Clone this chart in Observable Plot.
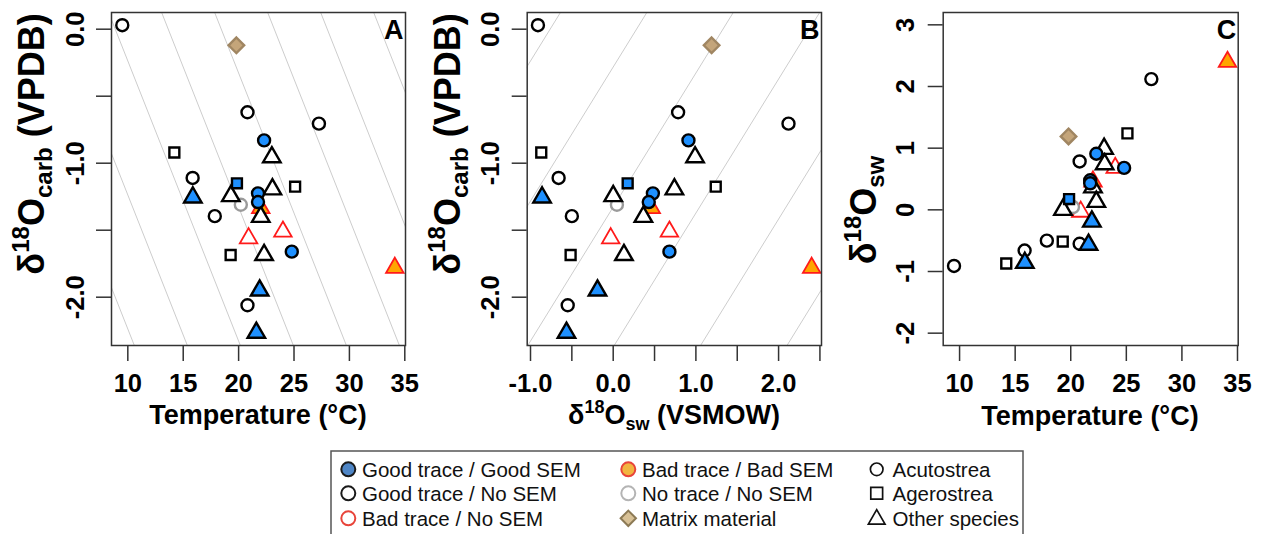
<!DOCTYPE html>
<html>
<head>
<meta charset="utf-8">
<script src="https://cdn.jsdelivr.net/npm/d3@7"></script>
<script src="https://cdn.jsdelivr.net/npm/@observablehq/plot@0.6"></script>
<style>
  body { margin: 0; background: #fff; }
  #wrap { position: relative; width: 1262px; height: 534px; overflow: hidden; background: #fff;
          font-family: "Liberation Sans", Arial, Helvetica, sans-serif; }
  #wrap svg { position: absolute; top: 0; overflow: visible; }
</style>
</head>
<body>
<div id="wrap"></div>
<script>
// ---------------- DATA ----------------
const temperature = [9.5, 19.8, 20.8, 27.25, 22.3, 23.0, 14.2, 15.85, 19.85, 23.05, 25.1, 15.87, 19.3, 21.75,
                     21.75, 20.2, 22.0, 22.0, 17.85, 20.9, 24.0, 19.28, 22.3, 24.8, 34.1, 21.9, 20.8, 21.6];
const d18Ocarb = [0.03, -0.12, -0.62, -0.705, -0.83, -0.955, -0.92, -1.11, -1.15, -1.195, -1.175, -1.255, -1.245, -1.225,
                  -1.29, -1.31, -1.335, -1.40, -1.395, -1.56, -1.51, -1.685, -1.685, -1.66, -1.78, -1.95, -2.06, -2.265];
const d18Osw = [-0.91, 1.19, 0.785, 2.12, 0.91, 0.99, -0.87, -0.66, 0.175, 0.74, 1.24, -0.86, 0.0, 0.48,
                0.43, 0.045, 0.46, 0.365, -0.50, -0.03, 0.68, -0.515, 0.13, 0.68, 2.40, -0.19, -0.55, -0.565];
const species = ["Acutostrea","Matrix","Acutostrea","Acutostrea","Acutostrea","Other species","Agerostrea",
                 "Acutostrea","Agerostrea","Other species","Agerostrea","Other species","Other species","Acutostrea",
                 "Acutostrea","Acutostrea","Other species","Other species","Acutostrea","Other species","Other species",
                 "Agerostrea","Other species","Acutostrea","Other species","Other species","Acutostrea","Other species"];
const GG = "Good trace / Good SEM", GN = "Good trace / No SEM", BN = "Bad trace / No SEM",
      BB = "Bad trace / Bad SEM", NN = "No trace / No SEM", MM = "Matrix material";
const status = [GN, MM, GN, GN, GG, GN, GN, GN, GG, GN, GN, GG, GN, GG,
                GG, NN, BB, GN, GN, BN, BN, GN, GN, GG, BB, GG, GN, GG];

// tick values and labels
const tempTicks = [10, 15, 20, 25, 30, 35];
const carbTicks = [0, -0.5, -1, -1.5, -2];
const carbLabeled = [0, -1, -2];
const swTicksB = [-1, -0.5, 0, 0.5, 1, 1.5, 2, 2.5];
const swLabeledB = [-1, 0, 1, 2];
const swTicksC = [3, 2, 1, 0, -1, -2];

// reference-line family (paleotemperature relation)
const isoSlope = 0.209, isoT0 = 13.65;
const swLevels = [-4, -3, -2, -1, 0, 1, 2, 3, 4, 5];       // panel A lines (constant δ18Osw)
const tLevels = [0, 5, 10, 15, 20, 25, 30, 35, 40, 45];     // panel B lines (constant T)

// legend
const legendCol1 = [GG, GN, BN];
const legendCol2 = [BB, NN, MM];
const legendCol3 = ["Acutostrea", "Agerostrea", "Other species"];

// ---------------- STYLES ----------------
const FONT = '"Liberation Sans", Arial, Helvetica, sans-serif';
const statusStyle = {
  [GG]: {fill: "#1E90FF", stroke: "#000000", sw: 2.4},
  [GN]: {fill: "#ffffff", stroke: "#000000", sw: 2.4},
  [BN]: {fill: "#ffffff", stroke: "#FF1A1A", sw: 1.8},
  [BB]: {fill: "#FFA500", stroke: "#FF1A1A", sw: 1.8},
  [NN]: {fill: "#ffffff", stroke: "#9a9a9a", sw: 2.4},
  [MM]: {fill: "#C4A57A", stroke: "#A08662", sw: 2.4}
};
const legendStyle = {
  [GG]: {fill: "#4F86C6", stroke: "#1a1a1a"},
  [GN]: {fill: "#ffffff", stroke: "#1a1a1a"},
  [BN]: {fill: "#ffffff", stroke: "#E8443A"},
  [BB]: {fill: "#F2B440", stroke: "#E8443A"},
  [NN]: {fill: "#ffffff", stroke: "#B4B4B4"},
  [MM]: {fill: "#D8C196", stroke: "#8C7A55"}
};
const shapeOf = {"Acutostrea": "circle", "Agerostrea": "square", "Other species": "triangle", "Matrix": "diamond2"};
const sizeOf = {"Acutostrea": 6, "Agerostrea": 5.6, "Other species": 6.5, "Matrix": 7};
const drawOrder = [BB, BN, NN, MM, GN, GG];
const speciesList = ["Acutostrea", "Agerostrea", "Other species", "Matrix"];

const samples = temperature.map((t, i) => ({T: t, carb: d18Ocarb[i], sw: d18Osw[i], species: species[i], status: status[i]}));

const wrap = document.getElementById("wrap");

function panel(o) {
  const marks = [];
  if (o.grid) marks.push(o.grid);
  for (const st of drawOrder) for (const sp of speciesList) {
    const sub = samples.filter(r => r.status === st && r.species === sp);
    if (!sub.length) continue;
    const s = statusStyle[st];
    marks.push(Plot.dot(sub, {x: o.xKey, y: o.yKey, symbol: shapeOf[sp], r: sizeOf[sp],
      fill: s.fill, stroke: s.stroke, strokeWidth: s.sw}));
  }
  marks.push(Plot.frame({stroke: "#333", strokeWidth: 1.5}));
  marks.push(Plot.axisX({ticks: o.xTicks, tickSize: 16, tickPadding: 12, label: null,
    tickFormat: d => o.xLabeled.includes(d) ? o.xFmt(d) : "", stroke: "#333", strokeWidth: 1.5}));
  marks.push(Plot.axisY({ticks: o.yTicks, tickSize: 15, label: null, tickFormat: () => "",
    stroke: "#333", strokeWidth: 1.5}));
  marks.push(Plot.text(o.yLabeled, {y: d => d, text: d => o.yFmt(d), frameAnchor: "left", dx: o.yTickDx,
    rotate: -90, textAnchor: "middle", lineAnchor: "middle", fontSize: 25.5, fontWeight: "bold", fill: "#000"}));
  marks.push(Plot.text([o.letter], {text: d => d, frameAnchor: "top-right", textAnchor: "end", lineAnchor: "top",
    dx: -2, dy: 7, fontSize: 27, fontWeight: "bold", fill: "#000"}));
  const svg = Plot.plot({
    width: o.width, height: 400,
    marginLeft: o.mLeft, marginRight: o.mRight, marginTop: 12, marginBottom: 55,
    x: {domain: o.xDomain, axis: null},
    y: {domain: o.yDomain, axis: null},
    style: {fontFamily: FONT, fontSize: "25.5px", fontWeight: "bold", color: "#000", background: "transparent"},
    marks
  });
  svg.style.left = o.left + "px";
  wrap.appendChild(svg);
}

const f1 = d => d.toFixed(1);
const f0 = d => String(d);

// Panel A: δ18Ocarb vs temperature, lines of constant δ18Osw
panel({
  left: 0, width: 430, mLeft: 111, mRight: 25,
  xDomain: [8.527, 35.063], yDomain: [-2.3604, 0.1246],
  xKey: "T", yKey: "carb",
  xTicks: tempTicks, xLabeled: tempTicks, xFmt: f0,
  yTicks: carbTicks, yLabeled: carbLabeled, yFmt: f1, yTickDx: -36, letter: "A",
  grid: Plot.link(swLevels, {x1: () => 0, x2: () => 40,
    y1: L => L - isoSlope * (0 - isoT0), y2: L => L - isoSlope * (40 - isoT0),
    stroke: "#cdcdcd", strokeWidth: 1, clip: true})
});

// Panel B: δ18Ocarb vs δ18Osw, lines of constant temperature
panel({
  left: 430, width: 410, mLeft: 96.7, mRight: 19,
  xDomain: [-1.04, 2.519], yDomain: [-2.3604, 0.1246],
  xKey: "sw", yKey: "carb",
  xTicks: swTicksB, xLabeled: swLabeledB, xFmt: f1,
  yTicks: carbTicks, yLabeled: carbLabeled, yFmt: f1, yTickDx: -36, letter: "B",
  grid: Plot.link(tLevels, {x1: () => -4, x2: () => 5,
    y1: T => -4 - isoSlope * (T - isoT0), y2: T => 5 - isoSlope * (T - isoT0),
    stroke: "#cdcdcd", strokeWidth: 1, clip: true})
});

// Panel C: δ18Osw vs temperature
panel({
  left: 840, width: 422, mLeft: 102.7, mRight: 24.3,
  xDomain: [8.527, 35.063], yDomain: [-2.2, 3.2],
  xKey: "T", yKey: "sw",
  xTicks: tempTicks, xLabeled: tempTicks, xFmt: f0,
  yTicks: swTicksC, yLabeled: swTicksC, yFmt: f0, yTickDx: -37.7, letter: "C",
  grid: null
});

// ---------------- AXIS TITLES ----------------
const ns = "http://www.w3.org/2000/svg";
const over = document.createElementNS(ns, "svg");
over.setAttribute("width", 1262); over.setAttribute("height", 534);
over.style.left = "0px"; over.style.pointerEvents = "none";
over.setAttribute("font-family", FONT);
const tempTitle = "Temperature (°C)";
over.innerHTML = `
  <text x="258" y="424" text-anchor="middle" font-size="27" font-weight="bold">${tempTitle}</text>
  <text x="1090" y="425" text-anchor="middle" font-size="27" font-weight="bold">${tempTitle}</text>
  <text x="674" y="424" text-anchor="middle" font-size="27" font-weight="bold">δ<tspan font-size="18" dy="-11">18</tspan><tspan dy="11">O</tspan><tspan font-size="18" dy="6">sw</tspan><tspan dy="-6"> (VSMOW)</tspan></text>
  <text transform="translate(44,144) rotate(-90)" text-anchor="middle" font-size="36" font-weight="bold">δ<tspan font-size="24" dy="-15">18</tspan><tspan dy="15">O</tspan><tspan font-size="24" dy="8">carb</tspan><tspan dy="-8"> (VPDB)</tspan></text>
  <text transform="translate(459.7,144) rotate(-90)" text-anchor="middle" font-size="36" font-weight="bold">δ<tspan font-size="24" dy="-15">18</tspan><tspan dy="15">O</tspan><tspan font-size="24" dy="8">carb</tspan><tspan dy="-8"> (VPDB)</tspan></text>
  <text transform="translate(876,210) rotate(-90)" text-anchor="middle" font-size="36" font-weight="bold">δ<tspan font-size="24" dy="-15">18</tspan><tspan dy="15">O</tspan><tspan font-size="24" dy="8">sw</tspan></text>
`;
wrap.appendChild(over);

// ---------------- LEGEND ----------------
const leg = d3.create("svg").attr("width", 1262).attr("height", 534)
  .style("left", "0px").attr("font-family", FONT);
leg.append("rect").attr("x", 331).attr("y", 451).attr("width", 692).attr("height", 100)
  .attr("fill", "none").attr("stroke", "#555").attr("stroke-width", 1.5);
const rowY = [469.3, 493.3, 518.3];
function legendText(x, y, s) {
  leg.append("text").attr("x", x).attr("y", y + 7.3).attr("font-size", 20.5).attr("fill", "#111").text(s);
}
legendCol1.forEach((s, i) => {
  const st = legendStyle[s];
  leg.append("circle").attr("cx", 348.3).attr("cy", rowY[i]).attr("r", 7)
    .attr("fill", st.fill).attr("stroke", st.stroke).attr("stroke-width", 2);
  legendText(362, rowY[i], s);
});
legendCol2.forEach((s, i) => {
  const st = legendStyle[s];
  if (s === MM) {
    leg.append("path").attr("transform", `translate(628.3,${rowY[i]})`)
      .attr("d", d3.symbol(d3.symbolDiamond2, 150)())
      .attr("fill", st.fill).attr("stroke", st.stroke).attr("stroke-width", 2);
  } else {
    leg.append("circle").attr("cx", 628.3).attr("cy", rowY[i]).attr("r", 7)
      .attr("fill", st.fill).attr("stroke", st.stroke).attr("stroke-width", 2);
  }
  legendText(642, rowY[i], s);
});
const col3Shapes = [d3.symbolCircle, d3.symbolSquare, d3.symbolTriangle];
const col3Sizes = [125, 140, 120];
legendCol3.forEach((s, i) => {
  leg.append("path").attr("transform", `translate(876.7,${rowY[i] + (i === 2 ? 1 : 0)})`)
    .attr("d", d3.symbol(col3Shapes[i], col3Sizes[i])())
    .attr("fill", "none").attr("stroke", "#111").attr("stroke-width", 1.7);
  legendText(892.5, rowY[i], s);
});
wrap.appendChild(leg.node());
</script>
</body>
</html>
